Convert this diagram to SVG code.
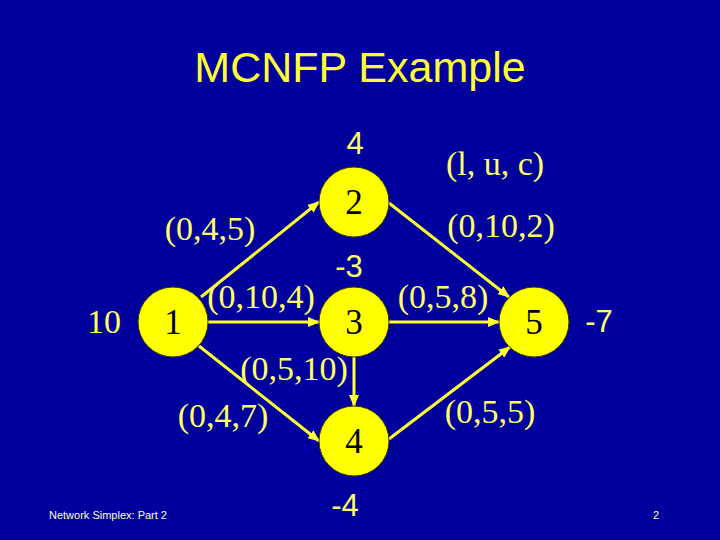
<svg xmlns="http://www.w3.org/2000/svg" width="720" height="540" viewBox="0 0 720 540">
<style>
.bg{fill:#00009c}
.title{font-family:"Liberation Sans",Arial,sans-serif;font-size:43px;fill:#ffff33;text-anchor:middle}
.lbl{font-family:"Liberation Serif","Times New Roman",serif;font-size:34px;fill:#ffff66;text-anchor:middle}
.num{font-family:"Liberation Sans",Arial,sans-serif;font-size:31px;fill:#ffff66;text-anchor:middle}
.node circle{fill:#ffff00;stroke:#3a3a00;stroke-width:1}
.node text{font-family:"Liberation Serif","Times New Roman",serif;font-size:35px;fill:#000;text-anchor:middle}
.edge{stroke:#ffff33;stroke-width:3;fill:none;marker-end:url(#arr)}
.foot{font-family:"Liberation Sans",Arial,sans-serif;font-size:11px;fill:#ffffcc}
</style>
<defs>
<marker id="arr" markerUnits="userSpaceOnUse" markerWidth="12" markerHeight="10" refX="11" refY="5" orient="auto">
<path d="M0,0 L12,5 L0,10 z" fill="#ffff33"/>
</marker>
</defs>
<rect class="bg" x="0" y="0" width="720" height="540"/>
<text class="title" x="360" y="82">MCNFP Example</text>
<g id="connectors">
<line class="edge" x1="201" y1="297" x2="319" y2="202"/>
<line class="edge" x1="208" y1="322" x2="319" y2="322"/>
<line class="edge" x1="199" y1="346" x2="319" y2="441"/>
<line class="edge" x1="354" y1="357" x2="354" y2="406"/>
<line class="edge" x1="389" y1="203" x2="509" y2="297"/>
<line class="edge" x1="389" y1="322" x2="499" y2="322"/>
<line class="edge" x1="389" y1="439" x2="510" y2="347"/>
</g>
<g id="edge-labels">
<text class="lbl" x="210" y="240">(0,4,5)</text>
<text class="lbl" x="261" y="308">(0,10,4)</text>
<text class="lbl" x="294" y="380">(0,5,10)</text>
<text class="lbl" x="223" y="427">(0,4,7)</text>
<text class="lbl" x="501" y="237">(0,10,2)</text>
<text class="lbl" x="443" y="308">(0,5,8)</text>
<text class="lbl" x="490" y="423">(0,5,5)</text>
<text class="lbl" x="495" y="175">(l, u, c)</text>
</g>
<g id="supplies">
<text class="lbl" x="104" y="333">10</text>
<text class="num" x="355" y="154">4</text>
<text class="num" x="349" y="277">-3</text>
<text class="num" x="599" y="332">-7</text>
<text class="num" x="345" y="516">-4</text>
</g>
<g id="n1" class="node"><circle cx="173" cy="322" r="35"/><text x="173" y="334">1</text></g>
<g id="n2" class="node"><circle cx="354" cy="202" r="35"/><text x="354" y="214">2</text></g>
<g id="n3" class="node"><circle cx="354" cy="322" r="35"/><text x="354" y="334">3</text></g>
<g id="n4" class="node"><circle cx="354" cy="441" r="35"/><text x="354" y="453">4</text></g>
<g id="n5" class="node"><circle cx="534" cy="322" r="35"/><text x="534" y="334">5</text></g>
<text class="foot" x="49" y="519">Network Simplex: Part 2</text>
<text class="foot" x="656" y="519" text-anchor="middle" fill="#ffffff">2</text>
</svg>
